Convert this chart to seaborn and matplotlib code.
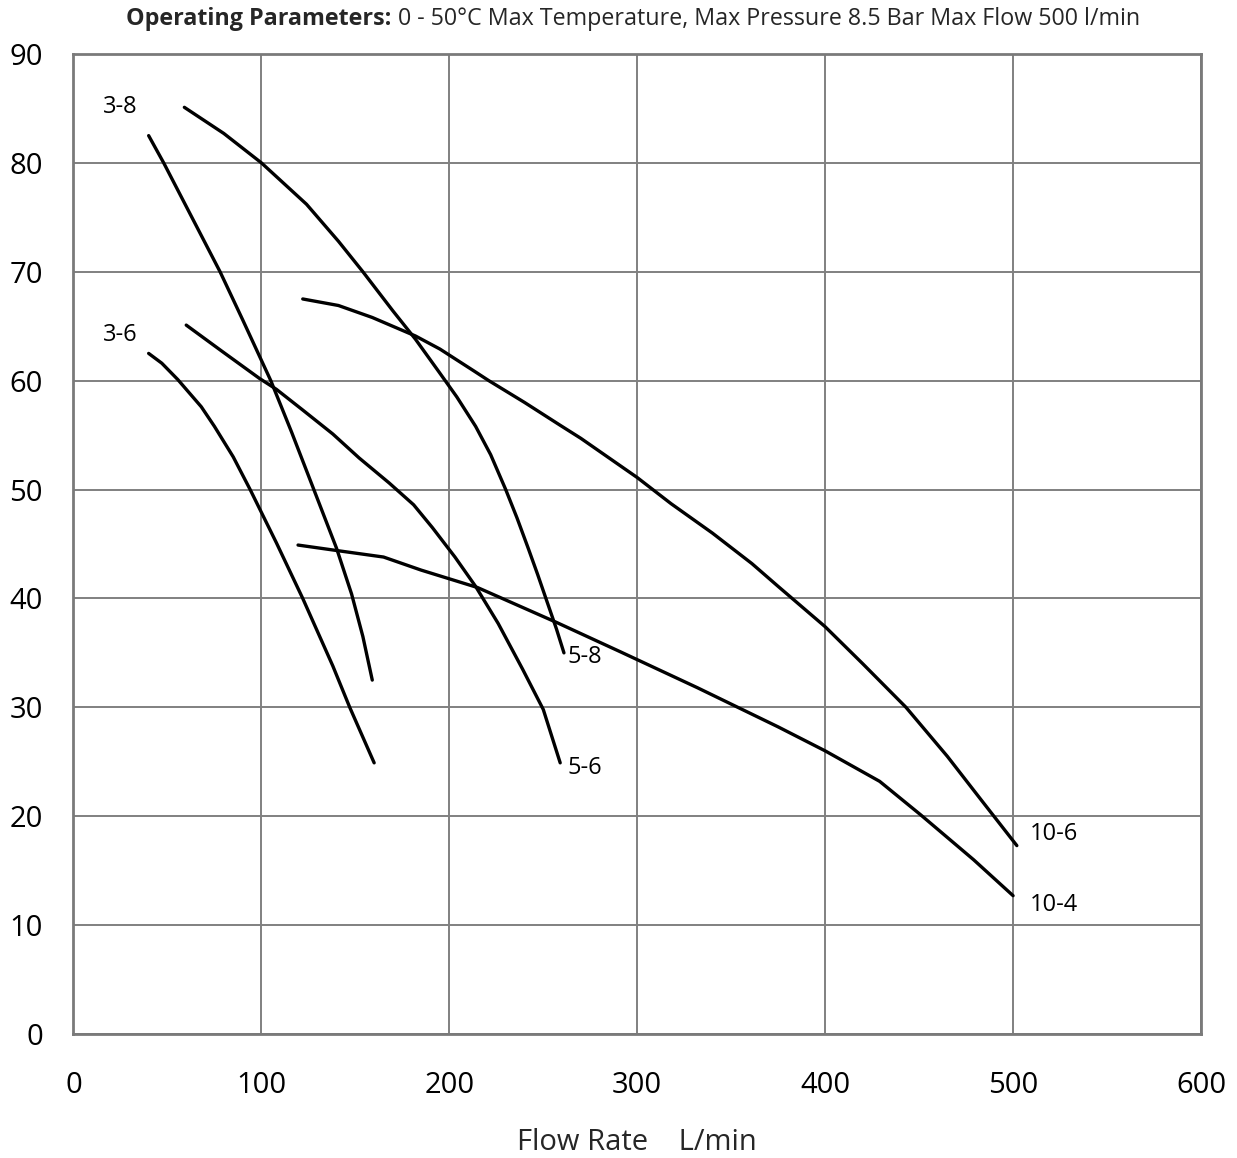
import matplotlib
matplotlib.use("Agg")

import matplotlib.pyplot as plt
import pandas as pd
import seaborn as sns


# -------------------------------------------------------
# DATA
# -------------------------------------------------------

flow_3_8 = [40, 48, 63, 78, 90, 105, 116, 127, 140, 148, 154, 159]
head_3_8 = [82.5, 80.0, 75.0, 70.0, 65.6, 60.0, 55.3, 50.4, 44.6, 40.4, 36.5, 32.5]

flow_3_6 = [40, 47, 55.5, 62, 68, 75, 85, 94, 108, 122, 138, 147, 160]
head_3_6 = [62.5, 61.6, 60.1, 58.8, 57.6, 55.8, 53.0, 50.0, 45.1, 40.0, 33.8, 30.0, 24.9]

flow_5_8 = [59, 80, 100, 124, 141, 154, 170, 182, 194.5, 204, 214, 222, 230, 236, 242, 247, 252, 257, 261]
head_5_8 = [85.1, 82.7, 80.0, 76.2, 72.8, 70.0, 66.4, 63.8, 60.8, 58.5, 55.8, 53.2, 50.0, 47.4, 44.6, 42.2, 39.7, 37.2, 35.0]

flow_5_6 = [60, 79, 99, 108, 122, 138, 152, 168, 181, 191, 203, 214, 226, 239, 250, 259]
head_5_6 = [65.1, 62.7, 60.2, 59.2, 57.3, 55.1, 52.9, 50.6, 48.6, 46.5, 43.8, 41.1, 37.7, 33.5, 29.8, 24.9]

flow_10_6 = [122, 141, 159, 182, 195, 213, 221, 240, 259, 270, 300, 318, 340, 361, 375, 400, 420, 443, 465, 483, 502]
head_10_6 = [67.5, 66.9, 65.8, 64.1, 62.9, 60.9, 60.0, 58.0, 55.9, 54.7, 51.1, 48.7, 46.0, 43.2, 41.1, 37.4, 34.0, 30.0, 25.5, 21.5, 17.3]

flow_10_4 = [119.5, 140, 165, 185, 215, 236, 257, 291, 332, 375, 400, 429, 451, 479, 500]
head_10_4 = [44.9, 44.4, 43.8, 42.6, 41.0, 39.4, 37.8, 35.1, 31.8, 28.2, 26.0, 23.2, 20.1, 16.0, 12.7]

curve_labels = ["3-8", "3-6", "5-8", "5-6", "10-6", "10-4"]
label_x = [25, 25, 263, 263, 509, 509]
label_y = [85.1, 64.2, 34.6, 24.4, 18.4, 11.8]

x_ticks = [0, 100, 200, 300, 400, 500, 600]
y_ticks = [0, 10, 20, 30, 40, 50, 60, 70, 80, 90]

title_bold = "Operating Parameters:"
title_rest = " 0 - 50°C Max Temperature, Max Pressure 8.5 Bar Max Flow 500 l/min"
x_label = "Flow Rate    L/min"


# -------------------------------------------------------
# CONFIGURATION
# -------------------------------------------------------

sns.set_theme(style="whitegrid")
plt.rcParams["font.family"] = ["Open Sans", "DejaVu Sans"]

curves = {
    "3-8": (flow_3_8, head_3_8),
    "3-6": (flow_3_6, head_3_6),
    "5-8": (flow_5_8, head_5_8),
    "5-6": (flow_5_6, head_5_6),
    "10-6": (flow_10_6, head_10_6),
    "10-4": (flow_10_4, head_10_4),
}
df = pd.concat(
    [pd.DataFrame({"flow": f, "head": h, "curve": name}) for name, (f, h) in curves.items()],
    ignore_index=True,
)


# -------------------------------------------------------
# FIGURE
# -------------------------------------------------------

fig = plt.figure(figsize=(12.37, 11.58), dpi=100)
ax = fig.add_axes([0.0594, 0.1071, 0.9115, 0.8463])

sns.lineplot(
    data=df, x="flow", y="head", hue="curve",
    palette={name: "black" for name in curves},
    estimator=None, sort=False, legend=False,
    linewidth=2.4, ax=ax,
)
for line in ax.get_lines():
    line.set_solid_joinstyle("round")
    line.set_solid_capstyle("round")

ax.set_xlim(0, 600)
ax.set_ylim(0, 90)
ax.set_xticks(x_ticks)
ax.set_yticks(y_ticks)
ax.tick_params(axis="both", length=0, labelsize=21, colors="black")
ax.tick_params(axis="x", pad=27)
ax.tick_params(axis="y", pad=22)

ax.grid(True, color="#808080", linewidth=1.4)
for spine in ax.spines.values():
    spine.set_visible(True)
    spine.set_color("#7a7a7a")
    spine.set_linewidth(2.0)

ax.set_xlabel(x_label, fontsize=21, labelpad=20)
ax.set_ylabel("")

for name, lx, ly in zip(curve_labels, label_x, label_y):
    ax.text(lx, ly, name, fontsize=17, ha="left" if lx > 100 else "center",
            va="center", color="black")

# title: bold part + regular part, centred together, scaled to the reference width
t1 = fig.text(0, 0.984, title_bold, fontsize=19, fontweight="bold",
              va="center", ha="left")
t2 = fig.text(0, 0.984, title_rest, fontsize=19, va="center", ha="left")
fig.canvas.draw()
r = fig.canvas.get_renderer()
total = t1.get_window_extent(r).width + t2.get_window_extent(r).width
size = 19 * 1016 / total
t1.set_fontsize(size)
t2.set_fontsize(size)
fig.canvas.draw()
w1 = t1.get_window_extent(r).width / fig.bbox.width
w2 = t2.get_window_extent(r).width / fig.bbox.width
start = 633 / 1237 - (w1 + w2) / 2
t1.set_x(start)
t2.set_x(start + w1)

fig.savefig("out.png", dpi=100)
plt.close(fig)
